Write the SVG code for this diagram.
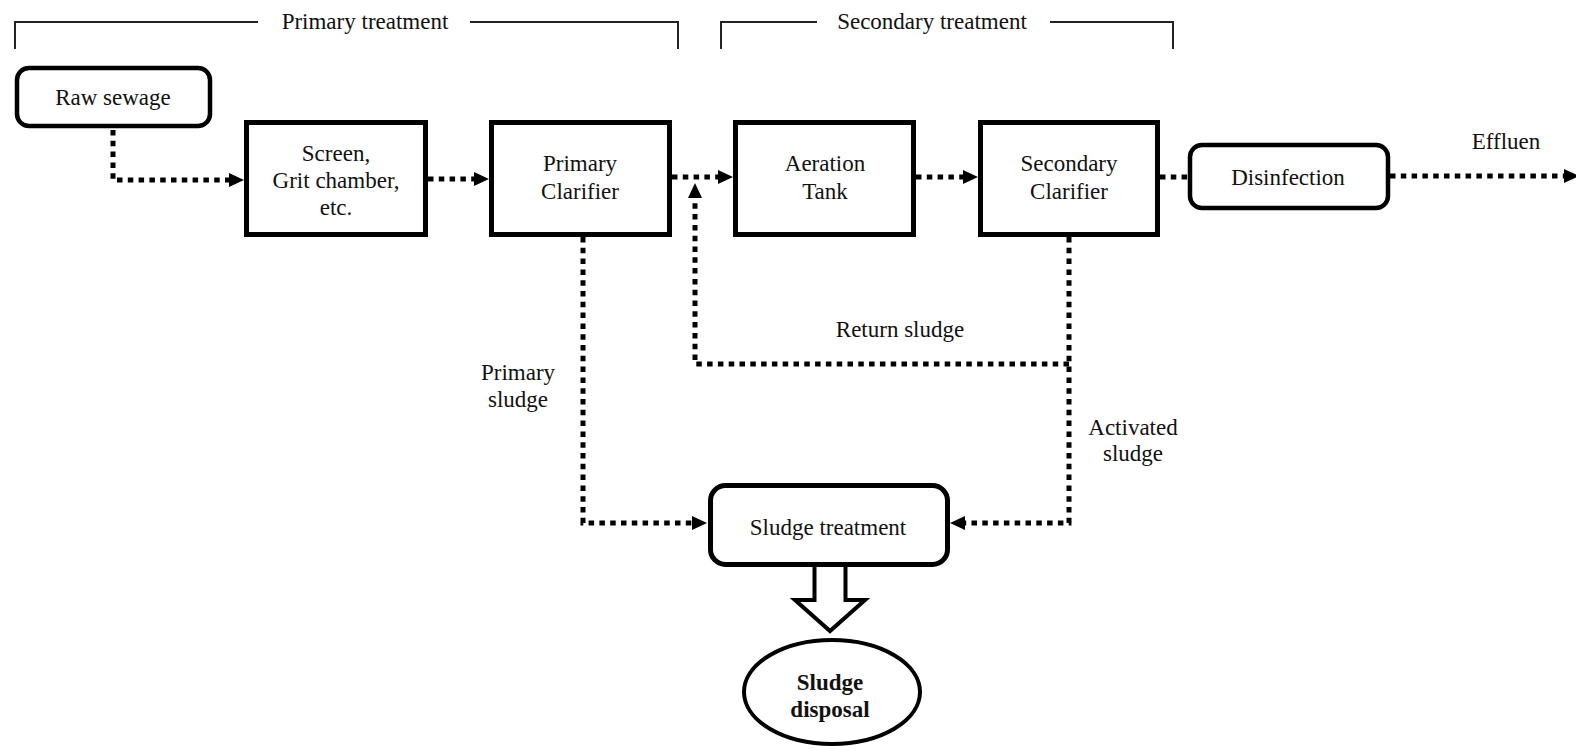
<svg xmlns="http://www.w3.org/2000/svg" width="1576" height="752" viewBox="0 0 1576 752">
<style>
.t{font-family:"Liberation Serif","Times New Roman",serif;font-size:23px;fill:#111;text-anchor:middle}
.b{font-weight:bold}
.box{fill:#fff;stroke:#000;stroke-width:5}
.rbox{fill:#fff;stroke:#000;stroke-width:4.5}
.br{fill:none;stroke:#222;stroke-width:2}
.c{fill:none;stroke:#000;stroke-width:5;stroke-dasharray:5.5 5.3}
</style>
<defs>
<marker id="ah" markerUnits="userSpaceOnUse" markerWidth="16" markerHeight="16" refX="0" refY="7" orient="auto" overflow="visible">
<path d="M0,0 L15,7 L0,14 Z" fill="#000"/>
</marker>
</defs>
<g id="brackets">
<path class="br" d="M15,49 V22 H258"/>
<path class="br" d="M470,22 H678 V49"/>
<text class="t" x="365" y="29">Primary treatment</text>
<path class="br" d="M721,49 V22 H817"/>
<path class="br" d="M1050,22 H1173 V49"/>
<text class="t" x="932" y="29">Secondary treatment</text>
</g>
<g id="connectors">
<path class="c" d="M113,130 V180 H229" marker-end="url(#ah)"/>
<path class="c" d="M428,179 H474" marker-end="url(#ah)"/>
<path class="c" d="M672,177 H718" marker-end="url(#ah)"/>
<path class="c" d="M916,177 H963" marker-end="url(#ah)"/>
<path class="c" d="M1160,177 H1188"/>
<path class="c" d="M1390,176 H1564" marker-end="url(#ah)"/>
<path class="c" d="M583,237 V523 H692" marker-end="url(#ah)"/>
<path class="c" d="M1069,237 V523 H965" marker-end="url(#ah)"/>
<path class="c" d="M1069,364 H695 V198" marker-end="url(#ah)"/>
<text class="t" x="1506" y="149">Effluen</text>
<text class="t" x="900" y="337">Return sludge</text>
<text class="t" x="518" y="380">Primary</text>
<text class="t" x="518" y="407">sludge</text>
<text class="t" x="1133" y="435">Activated</text>
<text class="t" x="1133" y="461">sludge</text>
<path d="M814.5,567 V600 H795 L830,631 L865,600 H845.5 V567" fill="#fff" stroke="#000" stroke-width="4"/>
</g>
<g id="raw-sewage">
<rect class="rbox" x="17" y="68" width="193" height="58" rx="12"/>
<text class="t" x="113" y="105">Raw sewage</text>
</g>
<g id="screen">
<rect class="box" x="246.5" y="122.5" width="179" height="112"/>
<text class="t" x="336" y="161">Screen,</text>
<text class="t" x="336" y="188">Grit chamber,</text>
<text class="t" x="336" y="215">etc.</text>
</g>
<g id="primary-clarifier">
<rect class="box" x="491.5" y="122.5" width="178" height="112"/>
<text class="t" x="580" y="171">Primary</text>
<text class="t" x="580" y="199">Clarifier</text>
</g>
<g id="aeration-tank">
<rect class="box" x="735.5" y="122.5" width="178" height="112"/>
<text class="t" x="825" y="171">Aeration</text>
<text class="t" x="825" y="199">Tank</text>
</g>
<g id="secondary-clarifier">
<rect class="box" x="980.5" y="122.5" width="177" height="112"/>
<text class="t" x="1069" y="171">Secondary</text>
<text class="t" x="1069" y="199">Clarifier</text>
</g>
<g id="disinfection">
<rect class="rbox" x="1190" y="145" width="198" height="63" rx="12"/>
<text class="t" x="1288" y="185">Disinfection</text>
</g>
<g id="sludge-treatment">
<rect class="box" x="710.5" y="485.5" width="237" height="79" rx="15"/>
<text class="t" x="828" y="535">Sludge treatment</text>
</g>
<g id="sludge-disposal">
<ellipse cx="832" cy="692" rx="88" ry="52" fill="#fff" stroke="#000" stroke-width="4"/>
<text class="t b" x="830" y="690">Sludge</text>
<text class="t b" x="830" y="717">disposal</text>
</g>
</svg>
